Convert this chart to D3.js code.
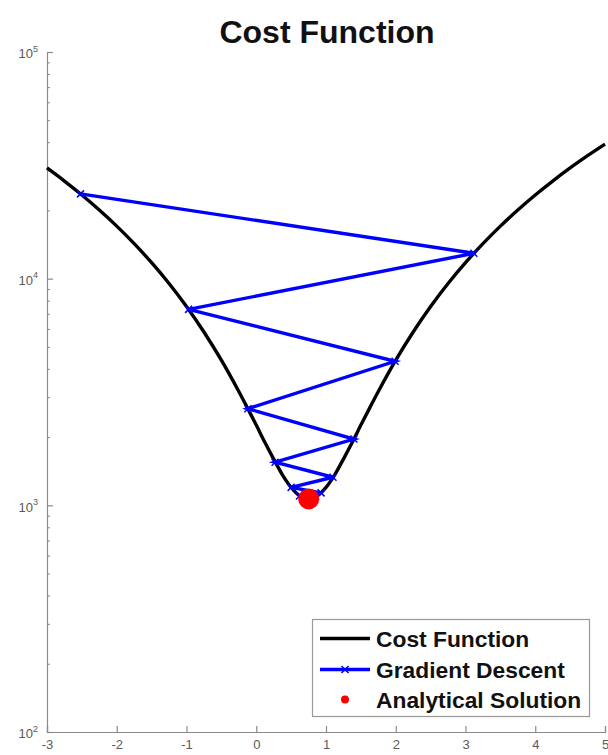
<!DOCTYPE html>
<html>
<head>
<meta charset="utf-8">
<script src="https://cdn.jsdelivr.net/npm/d3@7"></script>
<style>
  html, body { margin: 0; padding: 0; background: #fff; }
  svg { display: block; }
</style>
</head>
<body>
<svg id="chart" width="608" height="755"></svg>
<script>
// ---- data ----
const costTheta = [-3, -2.75, -2.5, -2.25, -2, -1.75, -1.5, -1.25, -1, -0.75, -0.5,
  -0.25, -0.125, 0, 0.125, 0.25, 0.375, 0.5, 0.625, 0.75, 0.875, 1, 1.125, 1.25, 1.375,
  1.5, 1.625, 1.75, 2, 2.25, 2.5, 2.75, 3, 3.25, 3.5, 3.75, 4, 4.25, 4.5, 4.75, 5];
const costJ = [30780, 26950, 23390, 20080, 17050, 14270, 11760, 9520, 7540, 5820, 4370,
  3180, 2685, 2260, 1892, 1600, 1364, 1200, 1100, 1067, 1100, 1200, 1364, 1600, 1892,
  2260, 2685, 3180, 4370, 5820, 7540, 9520, 11760, 14270, 17050, 20080, 23390, 26950, 30780, 34880, 39230];

const gdTheta = [-2.52, 3.12, -0.97, 1.99, -0.12, 1.40, 0.27, 1.10, 0.50, 0.93, 0.62, 0.85,
  0.68, 0.80, 0.71, 0.78, 0.73, 0.765, 0.74, 0.755, 0.75];
const gdJ = [23660, 12940, 7320, 4320, 2670, 1960, 1550, 1330, 1200, 1135, 1100, 1090,
  1080, 1072, 1070, 1069, 1068, 1067, 1067, 1067, 1067];

const solTheta = [0.752];
const solJ = [1067];

const xTicks = [-3, -2, -1, 0, 1, 2, 3, 4, 5];
const yTickExp = [2, 3, 4, 5];
const legendLabels = ["Cost Function", "Gradient Descent", "Analytical Solution"];
const titleText = "Cost Function";

// ---- drawing ----
const svg = d3.select("#chart");
const x = d3.scaleLinear().domain([-3, 5]).range([47, 605]);
const y = d3.scaleLog().domain([100, 100000]).range([732, 52]);

const axisColor = "#8a8a8a";
const labelColor = "#5a5a5a";

// title
svg.append("text")
  .attr("x", 327).attr("y", 43)
  .attr("text-anchor", "middle")
  .attr("font-family", "Liberation Sans, Arial, sans-serif")
  .attr("font-weight", "bold")
  .attr("font-size", 32)
  .attr("fill", "#111")
  .text(titleText);

// x axis
const gx = svg.append("g").attr("transform", `translate(0,${y(100)})`)
  .call(d3.axisBottom(x).tickValues(xTicks).tickSize(-6).tickPadding(8)
    .tickFormat(d => d < 0 ? "-" + Math.abs(d) : String(d)));
gx.select(".domain").attr("stroke", axisColor).attr("stroke-width", 1.2);
gx.selectAll(".tick line").attr("stroke", axisColor).attr("stroke-width", 1.2);
gx.selectAll(".tick text")
  .attr("fill", labelColor)
  .attr("font-family", "Liberation Sans, Arial, sans-serif")
  .attr("font-size", 13);

// y axis: major ticks
const yMajor = yTickExp.map(e => Math.pow(10, e));
const gy = svg.append("g").attr("transform", `translate(${x(-3)},0)`)
  .call(d3.axisLeft(y).tickValues(yMajor).tickSize(-6).tickPadding(9).tickFormat(() => ""));
gy.select(".domain").attr("stroke", axisColor).attr("stroke-width", 1.2);
gy.selectAll(".tick line").attr("stroke", axisColor).attr("stroke-width", 1.2);
gy.selectAll(".tick text").each(function(d, i) {
  const t = d3.select(this);
  t.attr("fill", labelColor)
   .attr("font-family", "Liberation Sans, Arial, sans-serif")
   .attr("font-size", 13)
   .attr("dy", "0.45em");
  t.append("tspan").text("10");
  t.append("tspan").attr("font-size", 9).attr("dy", "-0.75em").text(String(yTickExp[i]));
});

// y axis: minor ticks
const yMinor = [];
[2, 3, 4].forEach(e => { for (let k = 2; k <= 9; k++) yMinor.push(k * Math.pow(10, e)); });
const gyMinor = svg.append("g").attr("transform", `translate(${x(-3)},0)`)
  .call(d3.axisLeft(y).tickValues(yMinor).tickSize(-3).tickFormat(() => ""));
gyMinor.select(".domain").remove();
gyMinor.selectAll(".tick line").attr("stroke", axisColor).attr("stroke-width", 1);

// cost function curve
const line = d3.line().x(d => x(d[0])).y(d => y(d[1])).curve(d3.curveCatmullRom.alpha(0.5));
svg.append("path")
  .datum(costTheta.map((t, i) => [t, costJ[i]]))
  .attr("d", line)
  .attr("fill", "none")
  .attr("stroke", "#000")
  .attr("stroke-width", 3.4)
  .attr("stroke-linejoin", "round");

// gradient descent path
const gdLine = d3.line().x(d => x(d[0])).y(d => y(d[1]));
const gdData = gdTheta.map((t, i) => [t, gdJ[i]]);
svg.append("path")
  .datum(gdData)
  .attr("d", gdLine)
  .attr("fill", "none")
  .attr("stroke", "#0000ff")
  .attr("stroke-width", 3.4)
  .attr("stroke-linejoin", "miter");

function xMarker(g, cx, cy, s) {
  g.append("path")
    .attr("d", `M${cx - s},${cy - s}L${cx + s},${cy + s}M${cx - s},${cy + s}L${cx + s},${cy - s}`)
    .attr("stroke", "#0000ff").attr("stroke-width", 1.5).attr("fill", "none");
}
const gm = svg.append("g");
gdData.forEach(d => xMarker(gm, x(d[0]), y(d[1]), 3.5));

// analytical solution
svg.selectAll("circle.sol")
  .data(solTheta.map((t, i) => [t, solJ[i]]))
  .enter().append("circle")
  .attr("class", "sol")
  .attr("cx", d => x(d[0]))
  .attr("cy", d => y(d[1]))
  .attr("r", 10.5)
  .attr("fill", "#ff0000");

// legend
const lg = svg.append("g");
lg.append("rect")
  .attr("x", 312.5).attr("y", 619.5).attr("width", 277).attr("height", 97)
  .attr("fill", "#fff").attr("stroke", "#9a9a9a").attr("stroke-width", 1.2);
const rowY = [638.5, 669.5, 699.5];
lg.append("line").attr("x1", 320).attr("x2", 370).attr("y1", rowY[0]).attr("y2", rowY[0])
  .attr("stroke", "#000").attr("stroke-width", 3.4);
lg.append("line").attr("x1", 320).attr("x2", 370).attr("y1", rowY[1]).attr("y2", rowY[1])
  .attr("stroke", "#0000ff").attr("stroke-width", 3.4);
xMarker(lg, 345, rowY[1], 3.5);
lg.append("circle").attr("cx", 345).attr("cy", rowY[2]).attr("r", 4).attr("fill", "#ff0000");
legendLabels.forEach((s, i) => {
  lg.append("text")
    .attr("x", 376).attr("y", rowY[i])
    .attr("dy", "0.36em")
    .attr("font-family", "Liberation Sans, Arial, sans-serif")
    .attr("font-weight", "bold")
    .attr("font-size", 22.8)
    .attr("fill", "#111")
    .text(s);
});
</script>
</body>
</html>
